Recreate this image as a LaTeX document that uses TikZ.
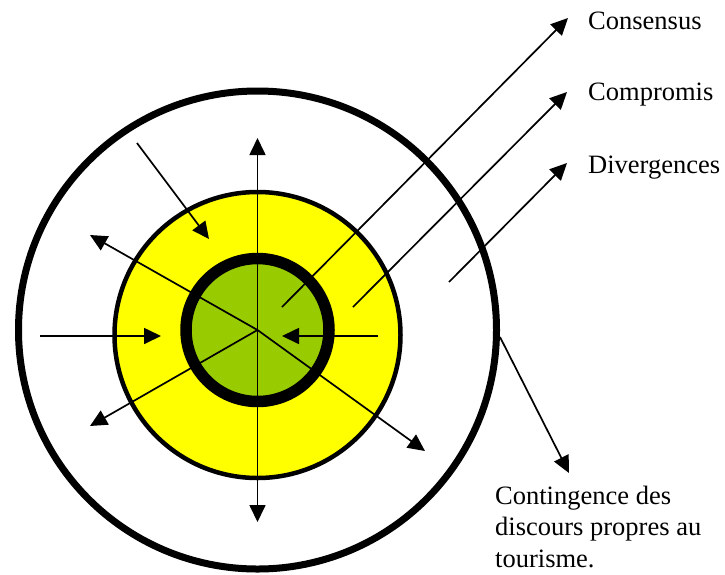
\documentclass[tikz,border=0pt]{standalone}
\usepackage{fontspec}
\setmainfont{Liberation Serif}
\usetikzlibrary{arrows.meta}
\definecolor{ringyellow}{RGB}{255,255,0}
\definecolor{coregreen}{RGB}{153,204,0}

\begin{document}
\begin{tikzpicture}[x=1pt, y=-1pt,
    arrow/.style={-{Triangle[length=17pt,width=16pt]}, line width=1.7pt},
    txt/.style={inner sep=0pt, anchor=base west, align=left, font=\fontsize{26.5}{31.5}\selectfont}
  ]
  \useasboundingbox (0,0) rectangle (725,574);

  % the three rings
  \coordinate (c) at (257.5,330);
  \coordinate (cy) at (257.5,335);
  \draw[line width=7pt, fill=white] (c) circle (239pt);
  \draw[line width=4.5pt, fill=ringyellow] (cy) circle (143pt);
  \draw[line width=11.5pt, fill=coregreen] (c) circle (71.5pt);

  % spokes from the core
  \coordinate (up) at (257.5,138);
  \coordinate (down) at (257.5,522);
  \coordinate (ul) at (90,235);
  \coordinate (dl) at (90,426);
  \coordinate (dr) at (425,451);
  \draw[arrow] (c) -- (up);
  \draw[arrow] (c) -- (down);
  \draw[arrow] (c) -- (ul);
  \draw[arrow] (c) -- (dl);
  \draw[arrow] (c) -- (dr);

  % arrows pushing inwards
  \coordinate (w0) at (40,336);
  \coordinate (w1) at (161,336);
  \coordinate (e0) at (378,336);
  \coordinate (e1) at (282,336);
  \coordinate (nw0) at (137,143);
  \coordinate (nw1) at (209,239);
  \draw[arrow] (w0) -- (w1);
  \draw[arrow] (e0) -- (e1);
  \draw[arrow] (nw0) -- (nw1);

  % labels
  \node[txt] (cons) at (588,29) {Consensus};
  \node[txt] (comp) at (588,100) {Compromis};
  \node[txt] (div) at (588,173) {Divergences};
  \node[txt] (cont) at (495,567) {Contingence des\\discours propres au\\tourisme.};

  \coordinate (cons0) at (282,307);
  \coordinate (cons1) at (568,18);
  \coordinate (comp0) at (353,307);
  \coordinate (comp1) at (567,92);
  \coordinate (div0) at (449,282);
  \coordinate (div1) at (567,163);
  \coordinate (cont0) at (500,337);
  \coordinate (cont1) at (569,473);
  \draw[arrow] (cons0) -- (cons1);
  \draw[arrow] (comp0) -- (comp1);
  \draw[arrow] (div0) -- (div1);
  \draw[arrow] (cont0) -- (cont1);
\end{tikzpicture}
\end{document}
